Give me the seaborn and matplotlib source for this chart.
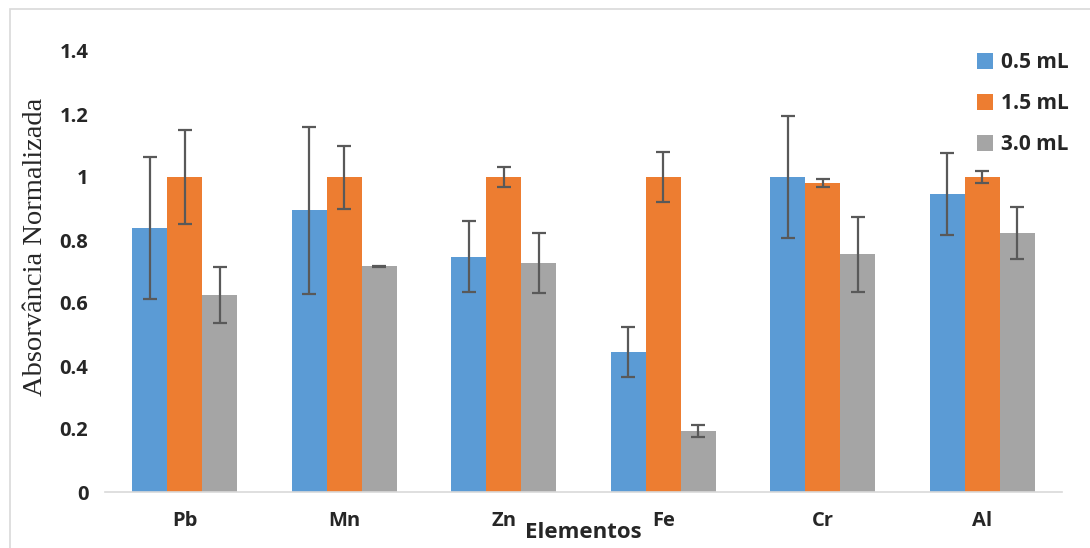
import matplotlib
matplotlib.use("Agg")
import matplotlib.pyplot as plt
from matplotlib.patches import Rectangle
import seaborn as sns
import pandas as pd
import numpy as np

elements = ["Pb", "Mn", "Zn", "Fe", "Cr", "Al"]
volumes = ["0.5 mL", "1.5 mL", "3.0 mL"]

vals_05 = [0.838, 0.894, 0.747, 0.444, 1.000, 0.946]
vals_15 = [1.000, 1.000, 1.000, 1.000, 0.981, 1.000]
vals_30 = [0.625, 0.716, 0.728, 0.194, 0.755, 0.822]

err_05 = [0.225, 0.265, 0.113, 0.080, 0.195, 0.131]
err_15 = [0.150, 0.100, 0.032, 0.080, 0.012, 0.020]
err_30 = [0.090, 0.003, 0.095, 0.020, 0.119, 0.083]

colors = ["#5B9BD5", "#ED7D31", "#A5A5A5"]

df = pd.DataFrame({
    "Elemento": elements * 3,
    "Volume": np.repeat(volumes, len(elements)),
    "Valor": vals_05 + vals_15 + vals_30,
})
errs = [err_05, err_15, err_30]

sns.set_style("white")
plt.rcParams["font.family"] = ["Open Sans", "DejaVu Sans"]

fig = plt.figure(figsize=(10.9, 5.48), dpi=100)
ax = fig.add_axes([105 / 1090, (548 - 492) / 548, (1062 - 105) / 1090, (492 - 51) / 548])

sns.barplot(data=df, x="Elemento", y="Valor", hue="Volume", hue_order=volumes,
            palette=colors, width=0.66, saturation=1, errorbar=None,
            linewidth=0, ax=ax)

# error bars on top of the bar containers
for cont, e in zip(ax.containers, errs):
    xs = [p.get_x() + p.get_width() / 2 for p in cont.patches]
    hs = [p.get_height() for p in cont.patches]
    ax.errorbar(xs, hs, yerr=e, fmt="none", ecolor="#595959", elinewidth=1.6,
                capsize=5, capthick=1.6, zorder=5)

ax.set_xlim(-0.5, len(elements) - 0.5)
ax.set_ylim(0, 1.4)
ax.set_yticks([0, 0.2, 0.4, 0.6, 0.8, 1.0, 1.2, 1.4])
ax.set_yticklabels(["0", "0.2", "0.4", "0.6", "0.8", "1", "1.2", "1.4"])
ax.tick_params(axis="both", length=0, labelsize=14.5)
ax.tick_params(axis="y", pad=12)
ax.tick_params(axis="x", pad=14)
for lbl in ax.get_xticklabels() + ax.get_yticklabels():
    lbl.set_fontweight("bold")

for s in ["top", "right", "left"]:
    ax.spines[s].set_visible(False)
ax.spines["bottom"].set_color("#D9D9D9")
ax.spines["bottom"].set_linewidth(1.2)

ax.set_xlabel("")
ax.set_ylabel("Absorvância Normalizada", family=["Liberation Serif", "DejaVu Serif"],
              fontsize=20.5)
ax.yaxis.set_label_coords(-0.06, 0.556)
fig.text(583 / 1090, 1 - 532 / 548, "Elementos", ha="center", va="center",
         fontsize=16, fontweight="bold")

leg = ax.legend(loc="upper left", bbox_to_anchor=(977 / 1090, 1 - 52 / 548),
                bbox_transform=fig.transFigure, frameon=False, fontsize=15,
                handlelength=0.77, handleheight=0.77, handletextpad=0.4,
                labelspacing=0.97, borderpad=0, borderaxespad=0)
for t in leg.get_texts():
    t.set_fontweight("bold")

fig.patches.append(Rectangle((10 / 1090, -0.05), 1.1, 1 - 9 / 548 + 0.05,
                             transform=fig.transFigure, fill=False,
                             edgecolor="#D9D9D9", linewidth=1.2, zorder=0))

fig.savefig("out.png", dpi=100)
